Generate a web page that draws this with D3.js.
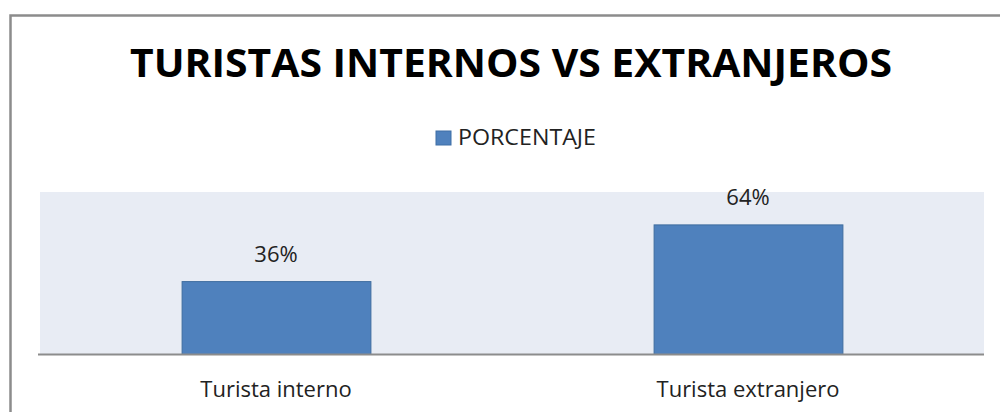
<!DOCTYPE html>
<html>
<head>
<meta charset="utf-8">
<script src="https://cdn.jsdelivr.net/npm/d3@7"></script>
<style>
	body { margin: 0; background: #fff; }
	svg { display: block; font-family: 'Open Sans', sans-serif; }
</style>
</head>
<body>
<svg id="chart" width="1000" height="412"></svg>
<script>
var categories = ['Turista interno', 'Turista extranjero'];
var porcentaje = [36, 64];
var seriesName = 'PORCENTAJE';
var titleText = 'TURISTAS INTERNOS VS EXTRANJEROS';

var svg = d3.select('#chart');
var plot = {left: 40, right: 984, top: 192, bottom: 354};

// chart frame (only top and left edges visible in the crop)
svg.append('path')
	.attr('d', 'M10.5,420V15.5H1010')
	.attr('fill', 'none')
	.attr('stroke', '#8c8c8c')
	.attr('stroke-width', 2.5);

svg.append('text')
	.attr('x', 511)
	.attr('y', 77)
	.attr('text-anchor', 'middle')
	.attr('font-size', 40)
	.attr('font-weight', 'bold')
	.attr('textLength', 762)
	.attr('lengthAdjust', 'spacingAndGlyphs')
	.attr('fill', '#000')
	.text(titleText);

// legend
var lg = svg.append('g').attr('transform', 'translate(436,131)');
lg.append('rect')
	.attr('width', 15).attr('height', 14)
	.attr('fill', '#4f81bd').attr('stroke', '#3f6fa6').attr('stroke-width', 1);
lg.append('text')
	.attr('x', 22).attr('y', 14)
	.attr('font-size', 21)
	.attr('textLength', 138)
	.attr('lengthAdjust', 'spacingAndGlyphs')
	.attr('fill', '#222')
	.text(seriesName);

var x = d3.scaleBand()
	.domain(categories)
	.range([plot.left, plot.right])
	.paddingInner(0.6)
	.paddingOuter(0.3);

var y = d3.scaleLinear()
	.domain([0, 80])
	.range([plot.bottom, plot.top]);

svg.append('rect')
	.attr('x', plot.left)
	.attr('y', plot.top)
	.attr('width', plot.right - plot.left)
	.attr('height', plot.bottom - plot.top)
	.attr('fill', '#e8ecf4');

svg.selectAll('rect.bar')
	.data(porcentaje)
	.enter().append('rect')
	.attr('class', 'bar')
	.attr('x', function(d, i) { return x(categories[i]) + 0.5; })
	.attr('y', function(d) { return y(d) + 0.5; })
	.attr('width', x.bandwidth())
	.attr('height', function(d) { return y(0) - y(d); })
	.attr('fill', '#4f81bd')
	.attr('stroke', '#3e6d9f')
	.attr('stroke-width', 1);

svg.selectAll('text.val')
	.data(porcentaje)
	.enter().append('text')
	.attr('class', 'val')
	.attr('x', function(d, i) { return x(categories[i]) + x.bandwidth() / 2; })
	.attr('y', function(d) { return y(d) - 19; })
	.attr('text-anchor', 'middle')
	.attr('font-size', 22)
	.attr('fill', '#222')
	.text(function(d) { return d + '%'; });

var xAxis = svg.append('g')
	.attr('transform', 'translate(0,' + plot.bottom + ')')
	.call(d3.axisBottom(x).tickSize(0));
xAxis.select('.domain')
	.attr('d', 'M' + (plot.left - 2) + ',0.5H' + plot.right)
	.attr('stroke', '#8c8c8c')
	.attr('stroke-width', 2);
xAxis.selectAll('.tick text')
	.attr('y', 43)
	.attr('dy', null)
	.attr('font-family', "'Open Sans', sans-serif")
	.attr('font-size', 22)
	.attr('fill', '#222');
</script>
</body>
</html>
